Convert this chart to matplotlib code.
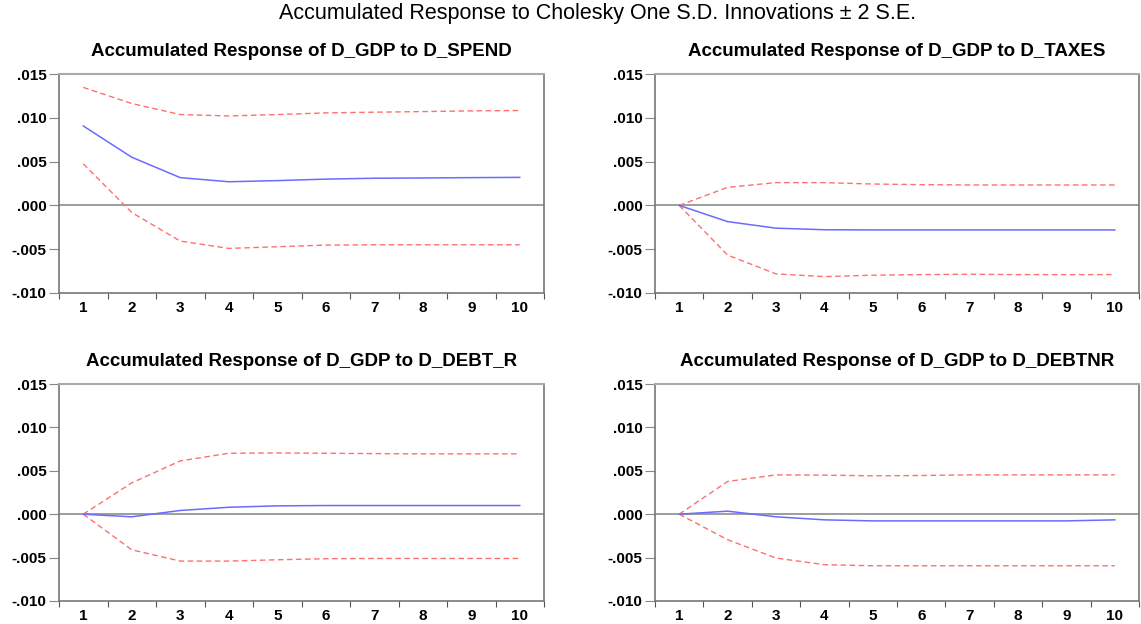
import matplotlib.pyplot as plt
import numpy as np
from matplotlib.ticker import FuncFormatter

periods = np.arange(1, 11)

spend_resp = [0.00907, 0.0055, 0.00317, 0.0027, 0.00283, 0.0030, 0.0031, 0.00313, 0.00317, 0.0032]
spend_upper = [0.01347, 0.01163, 0.01037, 0.01021, 0.01037, 0.01056, 0.01064, 0.01071, 0.01079, 0.01083]
spend_lower = [0.00474, -0.00081, -0.00407, -0.00491, -0.00472, -0.00453, -0.0045, -0.0045, -0.0045, -0.0045]

taxes_resp = [0.0, -0.00185, -0.0026, -0.00278, -0.0028, -0.0028, -0.0028, -0.0028, -0.0028, -0.0028]
taxes_upper = [0.0, 0.00206, 0.0026, 0.0026, 0.00244, 0.00237, 0.00233, 0.00233, 0.00233, 0.00233]
taxes_lower = [0.0, -0.00567, -0.00782, -0.00813, -0.00797, -0.0079, -0.00786, -0.0079, -0.0079, -0.0079]

debtr_resp = [0.0, -0.0003, 0.00043, 0.0008, 0.00096, 0.001, 0.001, 0.001, 0.001, 0.001]
debtr_upper = [0.0, 0.00361, 0.00614, 0.00702, 0.00706, 0.00702, 0.00698, 0.00695, 0.00695, 0.00695]
debtr_lower = [0.0, -0.0041, -0.0054, -0.0054, -0.00525, -0.00513, -0.0051, -0.0051, -0.0051, -0.0051]

debtnr_resp = [0.0, 0.00035, -0.0003, -0.00065, -0.00077, -0.00077, -0.00077, -0.00077, -0.00077, -0.00065]
debtnr_upper = [0.0, 0.00377, 0.00453, 0.0045, 0.00442, 0.00446, 0.00453, 0.00453, 0.00453, 0.00453]
debtnr_lower = [0.0, -0.00294, -0.00505, -0.00582, -0.00594, -0.00594, -0.00594, -0.00594, -0.00594, -0.00594]

panels = [
    ("Accumulated Response of D_GDP to D_SPEND", spend_resp, spend_upper, spend_lower),
    ("Accumulated Response of D_GDP to D_TAXES", taxes_resp, taxes_upper, taxes_lower),
    ("Accumulated Response of D_GDP to D_DEBT_R", debtr_resp, debtr_upper, debtr_lower),
    ("Accumulated Response of D_GDP to D_DEBTNR", debtnr_resp, debtnr_upper, debtnr_lower),
]

plt.rcParams['font.family'] = ['Liberation Sans', 'DejaVu Sans']

W, H = 1141, 624
fig = plt.figure(figsize=(W / 100, H / 100), dpi=100)

# axes boxes in pixels: left, top, right, bottom
boxes = [(59, 74, 544, 293), (655, 74, 1139, 293),
         (59, 384, 544, 601), (655, 384, 1139, 601)]


def fmt(v, pos):
    s = f"{v:.3f}"
    return s.replace("0.", ".")


for (title, resp, up, lo), (l, t, r, b) in zip(panels, boxes):
    ax = fig.add_axes([l / W, 1 - b / H, (r - l) / W, (b - t) / H])
    ax.axhline(0, color='#8c8c8c', linewidth=1.2, zorder=1)
    ax.plot(periods, up, color='#ff7070', linestyle=(0, (4, 2.5)), linewidth=1.0)
    ax.plot(periods, lo, color='#ff7070', linestyle=(0, (4, 2.5)), linewidth=1.0)
    ax.plot(periods, resp, color='#6b6bff', linewidth=1.1)
    ax.set_xlim(0.5, 10.5)
    ax.set_ylim(-0.010, 0.015)
    ax.set_yticks(np.arange(-0.010, 0.0151, 0.005))
    ax.yaxis.set_major_formatter(FuncFormatter(fmt))
    ax.set_xticks(np.arange(0.5, 10.6, 1))
    ax.set_xticklabels([])
    ax.set_xticks(periods, minor=True)
    ax.set_xticklabels([str(p) for p in periods], minor=True)
    ax.tick_params(axis='x', which='minor', length=0, pad=6, labelsize=11)
    ax.tick_params(axis='x', which='major', length=4, color='#555555')
    ax.tick_params(axis='y', length=7, color='#888888', labelsize=11, pad=2)
    for lab in ax.get_xticklabels(minor=True) + ax.get_yticklabels():
        lab.set_fontweight('bold')
    for side in ['left', 'bottom', 'right']:
        ax.spines[side].set_color('#777777')
        ax.spines[side].set_linewidth(1.2)
    ax.spines['top'].set_color('#aaaaaa')
    ax.spines['top'].set_linewidth(1.5)
    ax.set_title(title, fontsize=13.5, fontweight='bold', pad=13)

fig.text(598 / W, 1 - 14 / H, "Accumulated Response to Cholesky One S.D. Innovations \u00b1 2 S.E.",
         ha='center', va='center', fontsize=15.5)

fig.savefig('out.png', dpi=100)
